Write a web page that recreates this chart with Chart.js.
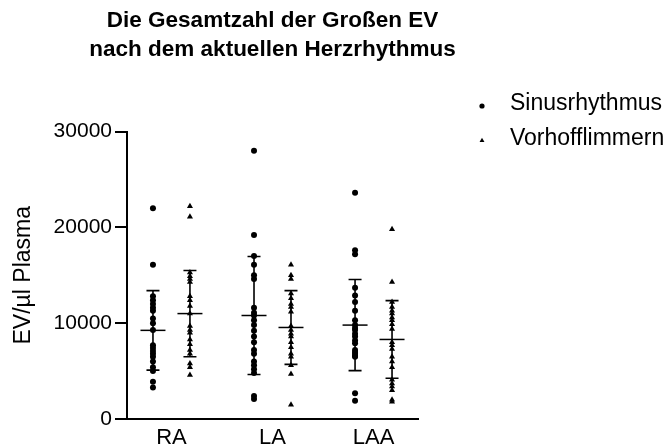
<!DOCTYPE html>
<html>
<head>
<meta charset="utf-8">
<script src="https://cdn.jsdelivr.net/npm/chart.js@4.4.1/dist/chart.umd.min.js"></script>
<style>
  html, body { margin: 0; padding: 0; background: #fff; }
  #wrap { width: 667px; height: 446px; }
</style>
</head>
<body>
<div id="wrap"><canvas id="c" width="667" height="446"></canvas></div>
<script>
// Regions of the heart where the samples were taken
const categories = ['RA', 'LA', 'LAA'];
const seriesNames = ['Sinusrhythmus', 'Vorhofflimmern'];
const titleLines = ['Die Gesamtzahl der Großen EV', 'nach dem aktuellen Herzrhythmus'];

// Individual measurements, EV per µl plasma
const sinusRA  = [22000, 16100, 12800, 12400, 12000, 11600, 11300, 10500, 10000, 9300, 7700, 7400, 7100, 6800, 6500, 6000, 5400, 5000, 3900, 3300];
const sinusLA  = [28000, 19200, 17000, 16100, 15000, 14600, 11600, 11100, 10800, 10300, 9800, 9200, 8600, 8000, 7200, 6800, 6000, 5600, 5200, 4800, 2400, 2100];
const sinusLAA = [23600, 17600, 17200, 13700, 12900, 12200, 11300, 10300, 9800, 9500, 9300, 8900, 8600, 8200, 7900, 7200, 7000, 6800, 6600, 6500, 2700, 1900];
const vhfRA    = [22200, 21100, 15300, 14900, 14600, 14300, 12800, 12400, 11800, 11000, 9700, 9300, 9000, 8300, 7800, 7200, 6800, 5800, 5400, 4600];
const vhfLA    = [16100, 15000, 14600, 13100, 12600, 12000, 11700, 11200, 9700, 9300, 8900, 8600, 8000, 7500, 6800, 6500, 5600, 4700, 1500];
const vhfLAA   = [19800, 14300, 12200, 11700, 11300, 11000, 10600, 10300, 9900, 9400, 8000, 7700, 7300, 6500, 6000, 5400, 4100, 3700, 3400, 3000, 2000, 1800];

// Group summaries (mean ± SD) per region
const sinusMean = [9250, 10800, 9800];
const sinusSD   = [4150, 6150, 4750];
const vhfMean   = [11000, 9550, 8300];
const vhfSD     = [4500, 3850, 4050];

const yTicks = [0, 10000, 20000, 30000];

const FONT = "'Liberation Sans', Arial, Helvetica, sans-serif";
const GROUP_OFFSET = 0.183;   // horizontal shift of each series within a region

function toPoints(columns, offset) {
  const pts = [];
  columns.forEach((vals, i) => vals.forEach(v => pts.push({ x: i + offset, y: v })));
  return pts;
}

const sinusData = toPoints([sinusRA, sinusLA, sinusLAA], -GROUP_OFFSET);
const vhfData   = toPoints([vhfRA, vhfLA, vhfLAA], GROUP_OFFSET);

// Mean line with SD whiskers for each column
const errorBars = {
  id: 'errorBars',
  afterDatasetsDraw(chart) {
    const { ctx, scales: { x: xs, y: ys } } = chart;
    const groups = [
      [sinusMean, sinusSD, -GROUP_OFFSET],
      [vhfMean, vhfSD, GROUP_OFFSET]
    ];
    ctx.save();
    ctx.strokeStyle = '#000';
    ctx.lineCap = 'butt';
    groups.forEach(([means, sds, off]) => {
      means.forEach((m, i) => {
        const x = xs.getPixelForValue(i + off);
        const yM = ys.getPixelForValue(m);
        const yHi = ys.getPixelForValue(m + sds[i]);
        const yLo = ys.getPixelForValue(m - sds[i]);
        ctx.lineWidth = 1.6;
        ctx.beginPath();
        ctx.moveTo(x, yHi); ctx.lineTo(x, yLo);
        ctx.moveTo(x - 6.5, yHi); ctx.lineTo(x + 6.5, yHi);
        ctx.moveTo(x - 6.5, yLo); ctx.lineTo(x + 6.5, yLo);
        ctx.stroke();
        ctx.lineWidth = 1.5;
        ctx.beginPath();
        ctx.moveTo(x - 12.5, yM); ctx.lineTo(x + 12.5, yM);
        ctx.stroke();
      });
    });
    ctx.restore();
  }
};

// Two-line heading centred over the plot, legend to the right of it
const annotations = {
  id: 'annotations',
  afterDraw(chart) {
    const { ctx, chartArea } = chart;
    ctx.save();
    ctx.fillStyle = '#000';
    ctx.font = 'bold 22.5px ' + FONT;
    ctx.textAlign = 'center';
    ctx.textBaseline = 'middle';
    const cx = (chartArea.left + chartArea.right) / 2;
    ctx.fillText(titleLines[0], cx, 21);
    ctx.fillText(titleLines[1], cx, 50);

    const items = [
      { text: seriesNames[0], style: 'circle', r: 2.6, y: 104 },
      { text: seriesNames[1], style: 'triangle', r: 2.8, y: 138.5 }
    ];
    items.forEach(it => {
      ctx.fillStyle = '#000';
      ctx.strokeStyle = '#000';
      Chart.helpers.drawPoint(ctx, { pointStyle: it.style, radius: it.r, rotation: 0, borderWidth: 0 }, 482, it.y + 2);
      ctx.fillStyle = '#000';
      ctx.font = '23px ' + FONT;
      ctx.textAlign = 'left';
      ctx.textBaseline = 'middle';
      ctx.fillText(it.text, 510, it.y);
    });
    ctx.restore();
  }
};

new Chart(document.getElementById('c'), {
  type: 'scatter',
  data: {
    datasets: [
      {
        label: seriesNames[0],
        data: sinusData,
        pointStyle: 'circle',
        pointRadius: 3,
        pointBorderWidth: 0,
        backgroundColor: '#000',
        borderColor: '#000'
      },
      {
        label: seriesNames[1],
        data: vhfData,
        pointStyle: 'triangle',
        pointRadius: 3.5,
        pointBorderWidth: 0,
        backgroundColor: '#000',
        borderColor: '#000'
      }
    ]
  },
  options: {
    responsive: false,
    animation: false,
    devicePixelRatio: 1,
    layout: { padding: { left: 0, right: 249, top: 131.5, bottom: 0 } },
    plugins: {
      legend: { display: false },
      tooltip: { enabled: false },
      title: { display: false }
    },
    scales: {
      x: {
        type: 'linear',
        min: -0.44,
        max: 2.44,
        afterBuildTicks: s => { s.ticks = categories.map((c, i) => ({ value: i })); },
        afterFit: s => { s.height = 27; },
        ticks: {
          color: '#000',
          font: { family: FONT, size: 22 },
          padding: 6,
          maxRotation: 0,
          autoSkip: false,
          callback: v => categories[v]
        },
        grid: { drawOnChartArea: false, drawTicks: false },
        border: { color: '#000', width: 2 }
      },
      y: {
        min: 0,
        max: 30000,
        afterBuildTicks: s => { s.ticks = yTicks.map(v => ({ value: v })); },
        afterFit: s => { s.width = 127; },
        ticks: {
          color: '#000',
          font: { family: FONT, size: 21 },
          padding: 3,
          callback: v => String(v)
        },
        grid: { drawOnChartArea: false, drawTicks: true, tickLength: 12, color: '#000', lineWidth: 2 },
        border: { color: '#000', width: 2 },
        title: {
          display: true,
          text: 'EV/µl Plasma',
          color: '#000',
          font: { family: FONT, size: 23 },
          padding: { top: 10, bottom: 0 }
        }
      }
    }
  },
  plugins: [errorBars, annotations]
});
</script>
</body>
</html>
